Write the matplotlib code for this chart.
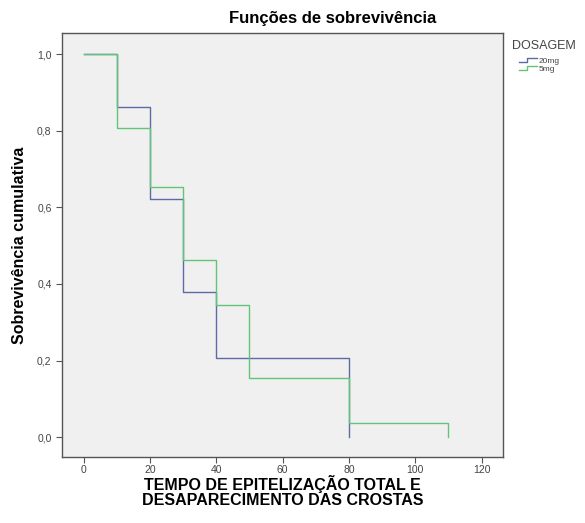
import matplotlib
matplotlib.use("Agg")
import matplotlib.pyplot as plt
from matplotlib.legend_handler import HandlerBase
from matplotlib.lines import Line2D

# Kaplan-Meier estimates
times_20mg = [0, 10, 20, 30, 40, 80]
surv_20mg = [1.0, 0.862, 0.621, 0.379, 0.207, 0.0]
times_5mg = [0, 10, 20, 30, 40, 50, 80, 110]
surv_5mg = [1.0, 0.808, 0.654, 0.462, 0.346, 0.154, 0.038, 0.0]

group_labels = ["20mg", "5mg"]
x_ticks = [0, 20, 40, 60, 80, 100, 120]
y_ticks = [0.0, 0.2, 0.4, 0.6, 0.8, 1.0]

BLUE = "#5d6ba3"
GREEN = "#62c476"

plt.rcParams['font.family'] = ['Liberation Sans', 'DejaVu Sans']


class StepHandler(HandlerBase):
    # small step icon like the SPSS legend
    def create_artists(self, legend, orig, xd, yd, width, height, fontsize, trans):
        xs = [xd, xd + width * 0.45, xd + width * 0.45, xd + width]
        ys = [yd + height * 0.1, yd + height * 0.1, yd + height * 0.85, yd + height * 0.85]
        ln = Line2D(xs, ys, color=orig.get_color(), lw=1.0, transform=trans)
        return [ln]


W, H = 585, 523
fig = plt.figure(figsize=(W / 100, H / 100), dpi=100)
ax = fig.add_axes([0.106, 0.126, 0.754, 0.811])
ax.set_facecolor("#f0f0f0")

l1, = ax.step(times_20mg, surv_20mg, where="post", color=BLUE, lw=1.0)
l2, = ax.step(times_5mg, surv_5mg, where="post", color=GREEN, lw=1.0)

ax.set_xlim(-6.5, 126.5)
ax.set_ylim(-0.052, 1.055)
ax.set_xticks(x_ticks)
ax.set_yticks(y_ticks)
ax.set_yticklabels([f"{v:.1f}".replace(".", ",") for v in y_ticks])
ax.tick_params(direction="out", length=4, width=0.8, colors="#555555",
               labelsize=7.5, labelcolor="#444444")
ax.tick_params(axis="x", pad=2)
for s in ax.spines.values():
    s.set_color("#555555")
    s.set_linewidth(1.0)

# title sits over axes + legend, not over the axes alone
fig.text(333 / W, 1 - 18 / H, "Funções de sobrevivência", fontsize=12,
         fontweight="bold", ha="center", va="center")
ax.set_ylabel("Sobrevivência cumulativa", fontsize=11.5, fontweight="bold", labelpad=7)
ax.set_xlabel("TEMPO DE EPITELIZAÇÃO TOTAL E\nDESAPARECIMENTO DAS CROSTAS",
              fontsize=11.5, fontweight="bold", labelpad=0, linespacing=1.0)

fig.text(512 / W, 1 - 46 / H, "DOSAGEM", fontsize=9, color="#444444",
         ha="left", va="center")
leg = fig.legend([l1, l2], group_labels,
                 loc="upper left", bbox_to_anchor=(519 / W, 1 - 57 / H),
                 frameon=False, fontsize=6,
                 handlelength=2.2, handletextpad=0.15, labelspacing=0.0,
                 borderpad=0.0, borderaxespad=0.0,
                 handler_map={Line2D: StepHandler()})
for t in leg.get_texts():
    t.set_color("#444444")

fig.savefig("out.png", dpi=100)
